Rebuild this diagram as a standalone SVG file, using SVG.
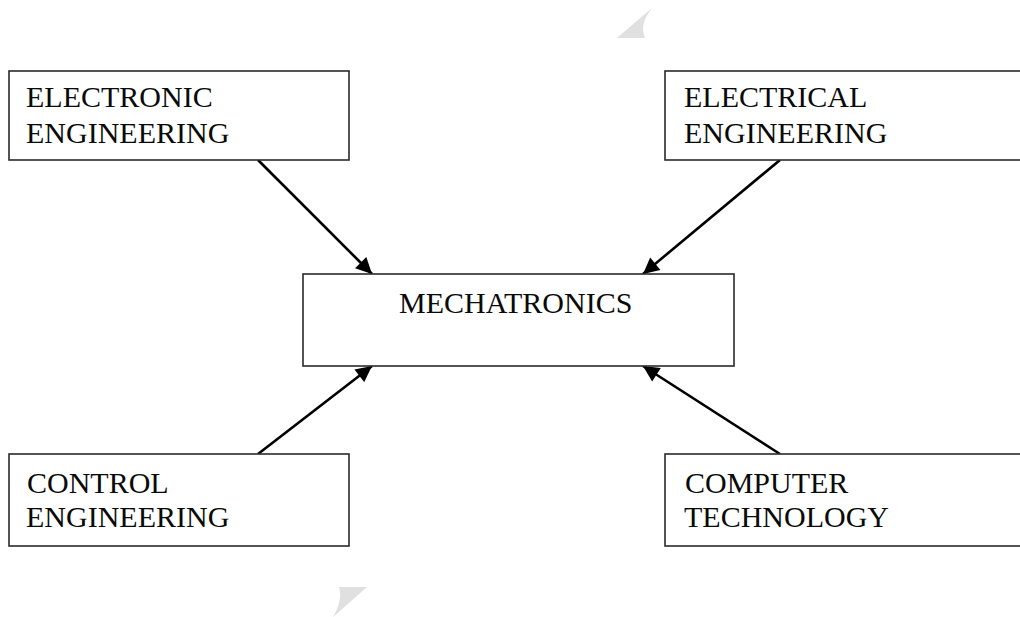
<svg xmlns="http://www.w3.org/2000/svg" width="1020" height="617" viewBox="0 0 1020 617">
  <style>
    .box { fill: #ffffff; stroke: #2a2a2a; stroke-width: 1.6; }
    .label { font-family: "Liberation Serif", "Times New Roman", serif; font-size: 30px; fill: #0a0a0a; }
    .link { stroke: #000000; stroke-width: 2.6; fill: none; marker-end: url(#head); }
    .mark { fill: #e0e0e0; }
  </style>
  <defs>
    <marker id="head" viewBox="0 0 10 10" refX="10" refY="5" markerUnits="userSpaceOnUse" markerWidth="17" markerHeight="16" orient="auto">
      <path d="M0,0 L10,5 L0,10 Z" fill="#000000"/>
    </marker>
  </defs>
  <rect width="1020" height="617" fill="#ffffff"/>

  <!-- faint page marks -->
  <path class="mark" d="M617,38 L645,38 Q639,24 652,8 Z"/>
  <path class="mark" d="M339,587 L367,587 L333,617 Q343,600 339,587 Z"/>

  <g id="connectors">
    <line class="link" x1="258" y1="160" x2="372" y2="274"/>
    <line class="link" x1="780" y1="160" x2="643" y2="274"/>
    <line class="link" x1="258" y1="454" x2="372" y2="366"/>
    <line class="link" x1="780" y1="454" x2="643" y2="366"/>
  </g>

  <g id="electronic-engineering">
    <rect class="box" x="9" y="71" width="340" height="89"/>
    <text class="label" x="26" y="107">ELECTRONIC</text>
    <text class="label" x="26" y="143">ENGINEERING</text>
  </g>

  <g id="electrical-engineering">
    <rect class="box" x="665" y="71" width="400" height="89"/>
    <text class="label" x="684" y="107">ELECTRICAL</text>
    <text class="label" x="684" y="143">ENGINEERING</text>
  </g>

  <g id="mechatronics">
    <rect class="box" x="303" y="274" width="431" height="92"/>
    <text class="label" x="399" y="313">MECHATRONICS</text>
  </g>

  <g id="control-engineering">
    <rect class="box" x="9" y="454" width="340" height="92"/>
    <text class="label" x="27" y="493">CONTROL</text>
    <text class="label" x="26" y="527">ENGINEERING</text>
  </g>

  <g id="computer-technology">
    <rect class="box" x="665" y="454" width="400" height="92"/>
    <text class="label" x="685" y="493">COMPUTER</text>
    <text class="label" x="684" y="527">TECHNOLOGY</text>
  </g>
</svg>
